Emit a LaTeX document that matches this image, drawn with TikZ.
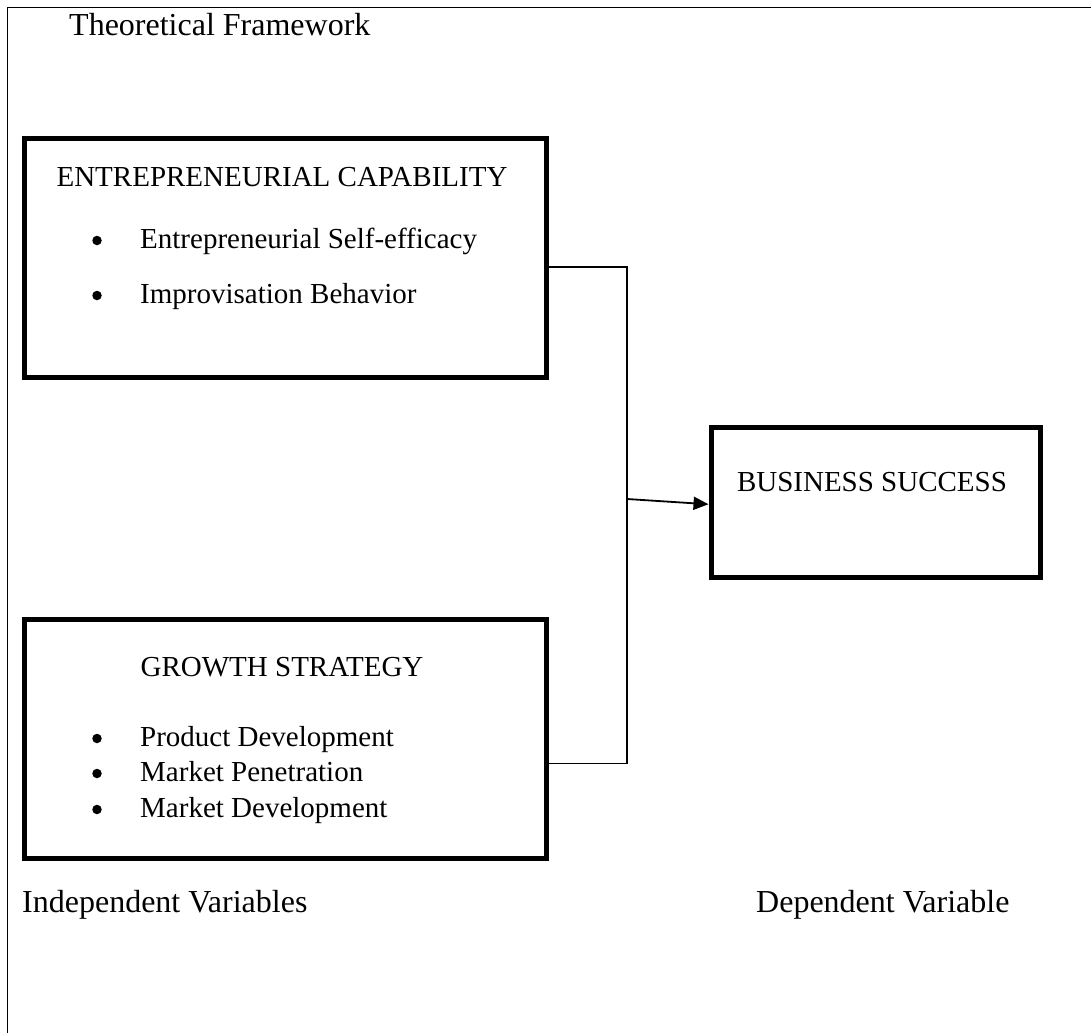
\documentclass[tikz,border=0pt]{standalone}
\usepackage{fontspec}
\setmainfont{Liberation Serif}
\usetikzlibrary{arrows.meta}
\begin{document}
\begin{tikzpicture}[x=1pt,y=-1pt,
  frame/.style={line width=1.5pt},
  varbox/.style={draw, line width=5pt, inner sep=0pt, anchor=north west},
  wire/.style={line width=1.8pt},
  body/.style={font=\fontsize{29}{34}\selectfont, inner sep=0pt},
  caption/.style={font=\fontsize{32}{38}\selectfont, inner sep=0pt, anchor=base west},
  dot/.style={circle, fill, inner sep=0pt, minimum size=9.5pt}
]
\useasboundingbox (0,0) rectangle (1091,1033);

% page frame (left and top edges only)
\coordinate (fb) at (7.5,1033);
\coordinate (fc) at (7.5,7.5);
\coordinate (fr) at (1091,7.5);
\draw[frame] (fb) -- (fc) -- (fr);

\node[caption] (title) at (69,36) {Theoretical Framework};

% independent variable boxes
\node[varbox, minimum width=522.5pt, minimum height=239pt] (ec) at (21.5,135.5) {};
\node[varbox, minimum width=522.5pt, minimum height=239pt] (gs) at (21.5,616.5) {};
% dependent variable box
\node[varbox, minimum width=329.5pt, minimum height=149.5pt] (bs) at (708.5,425) {};

% box contents
\node[body, anchor=base] (ech) at (282,186) {ENTREPRENEURIAL CAPABILITY};
\node[dot] (ed1) at (97,240.5) {};
\node[body, anchor=base west] (ei1) at (140,248) {Entrepreneurial Self-efficacy};
\node[dot] (ed2) at (97,295.5) {};
\node[body, anchor=base west] (ei2) at (140,303) {Improvisation Behavior};

\node[body, anchor=base] (gsh) at (282,676) {GROWTH STRATEGY};
\node[dot] (gd1) at (97,738.5) {};
\node[body, anchor=base west] (gi1) at (140,746) {Product Development};
\node[dot] (gd2) at (97,773.5) {};
\node[body, anchor=base west] (gi2) at (140,781) {Market Penetration};
\node[dot] (gd3) at (97,809.5) {};
\node[body, anchor=base west] (gi3) at (140,817) {Market Development};

\node[body, anchor=base] (bsh) at (872,491) {BUSINESS SUCCESS};

% connectors
\coordinate (j1) at (627,267);
\coordinate (j2) at (627,763.5);
\coordinate (j3) at (627,499);
\draw[wire] (ec.east |- j1) -- (j1) -- (j2) -- (gs.east |- j2);
\draw[wire, -{Triangle[length=15pt,width=13pt]}] (j3) -- ([yshift=-2pt]bs.west);

% axis labels
\node[caption] (iv) at (22,912) {Independent Variables};
\node[caption] (dv) at (756,912) {Dependent Variable};
\end{tikzpicture}
\end{document}
